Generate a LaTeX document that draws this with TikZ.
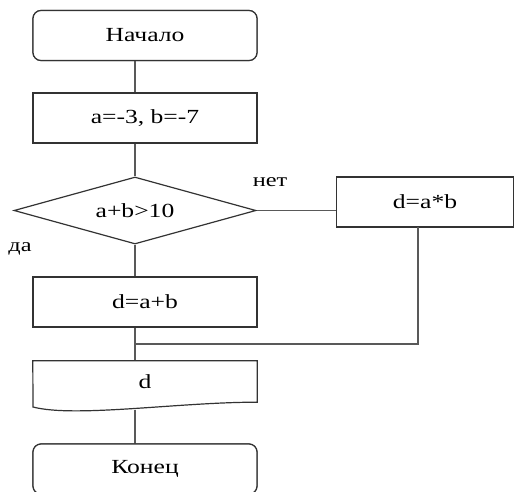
\documentclass[tikz,border=0pt]{standalone}
\usepackage{graphicx}
\usepackage{fontspec}
\setmainfont{Liberation Serif}
\usetikzlibrary{shapes.geometric}
\newcommand\wtxt[1]{\scalebox{1.28}[1]{#1}}
\tikzset{
  blk/.style={draw=black!80, line width=1.2pt, minimum width=224pt, minimum height=50pt,
    inner sep=0pt, font=\fontsize{20}{24}\selectfont, fill=white},
  term/.style={blk, rounded corners=8pt},
  cond/.style={draw=black!80, line width=1.2pt, diamond, aspect=3.6, minimum width=242pt,
    minimum height=67pt, inner sep=0pt, font=\fontsize{20}{24}\selectfont},
  lbl/.style={font=\fontsize{19}{22}\selectfont, inner sep=0pt},
  flow/.style={draw=black!65, line width=1.4pt},
}
\begin{document}
\begin{tikzpicture}[x=1pt, y=-1pt]
  \clip (0,0) rectangle (515,491);
  \fill[white] (0,0) rectangle (515,491);

  \node[term] (start) at (145,35.5) {\wtxt{Начало}};
  \node[blk] (init) at (145,118) {\wtxt{a=-3, b=-7}};
  \node[cond] (test) at (135,210.5) {\wtxt{a+b>10}};
  \node[blk, minimum width=177pt] (mul) at (425,202) {\wtxt{d=a*b}};
  \node[blk] (add) at (145,302) {\wtxt{d=a+b}};
  \node[font=\fontsize{20}{24}\selectfont, minimum width=224pt, minimum height=41pt, inner sep=0pt] (out) at (145,381.5) {\wtxt{d}};
  \node[term] (stop) at (145,469) {\wtxt{Конец}};

  % connector end points on the shared vertical axis
  \coordinate (merge) at (135,344);
  \coordinate (mulout) at (418,227);

  \draw[flow] (135,60) -- (135,93);
  \draw[flow] (135,143) -- (test.north);
  \draw[flow] (test.south) -- (135,277);
  \draw[flow] (test.east) -- (test.east -| mul.west);
  \draw[flow] (mulout) -- (mulout |- merge) -- (merge);
  \draw[flow] (135,327) -- (135,361);
  \draw[flow] (135,410) -- (135,444);

  % redraw shapes over the connector ends
  \node[term] at (start) {\wtxt{Начало}};
  \node[blk] at (init) {\wtxt{a=-3, b=-7}};
  \node[blk] at (add) {\wtxt{d=a+b}};
  \node[term] at (stop) {\wtxt{Конец}};

  % output document shape with wavy bottom
  \draw[draw=black!80, line width=1.2pt]
    (out.north west) -- (out.north east) -- (out.south east)
    .. controls (180,402) and (75,418) .. (33,407) -- cycle;

  \node[lbl] (yes) at (20,249) {\wtxt{да}};
  \node[lbl] (no) at (270,182) {\wtxt{нет}};
\end{tikzpicture}
\end{document}
